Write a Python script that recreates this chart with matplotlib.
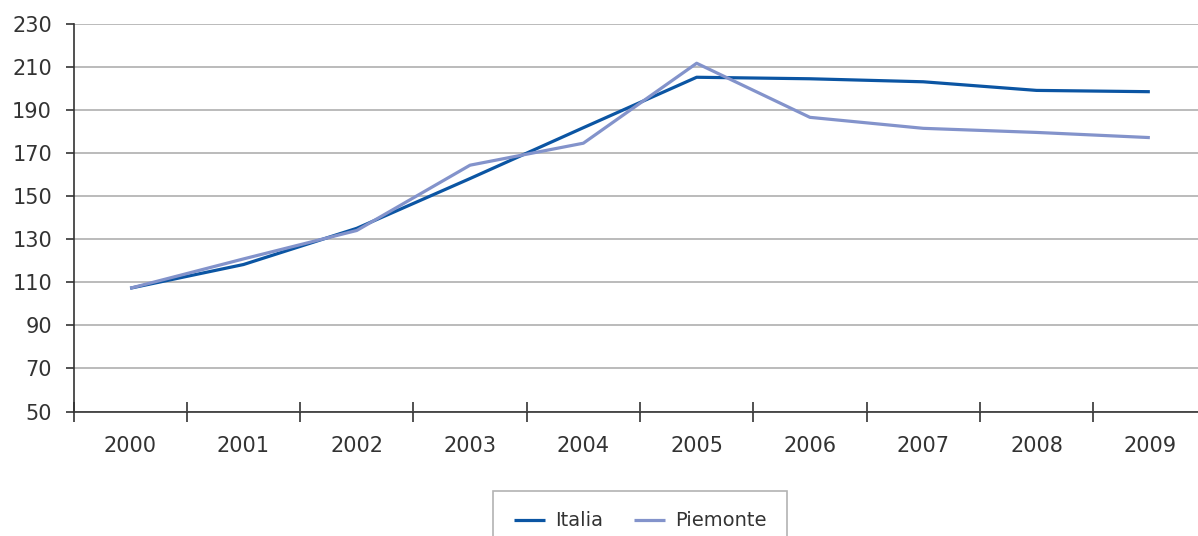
import matplotlib
matplotlib.use("Agg")
import matplotlib.pyplot as plt
import numpy as np

years = ["2000", "2001", "2002", "2003", "2004", "2005", "2006", "2007", "2008", "2009"]
italia = [107.2, 118.2, 135.0, 158.1, 181.7, 205.1, 204.4, 203.0, 199.0, 198.4]
piemonte = [107.2, 120.8, 134.0, 164.3, 174.5, 211.6, 186.5, 181.4, 179.5, 177.1]
yticks = [50, 70, 90, 110, 130, 150, 170, 190, 210, 230]

W, H = 1198, 536
fig = plt.figure(figsize=(W / 100, H / 100), dpi=100)
left_px, right_px = 73.5, 1206.5
top_px, bot_px = 23.6, 411.5
ax = fig.add_axes([left_px / W, 1 - bot_px / H, (right_px - left_px) / W, (bot_px - top_px) / H])

x = np.arange(len(years))
ax.plot(x, italia, color="#0b55a3", lw=2.3, label="Italia", solid_capstyle="butt")
ax.plot(x, piemonte, color="#8393cb", lw=2.3, label="Piemonte", solid_capstyle="butt")

ax.set_xlim(-0.5, len(years) - 0.5)
ax.set_ylim(50, 230)
ax.set_yticks(yticks)
ax.set_yticklabels([str(v) for v in yticks])
ax.yaxis.grid(True, color="#b5b5b5", lw=1.3)
ax.set_axisbelow(True)

ax.set_xticks(np.arange(-0.5, len(years), 1.0))
ax.set_xticklabels([])
ax.set_xticks(x, minor=True)
ax.set_xticklabels(years, minor=True)
ax.tick_params(axis="x", which="major", direction="inout", length=14, width=1.2, color="#333333")
ax.tick_params(axis="x", which="minor", length=0, pad=18, labelsize=15, labelcolor="#333333")
ax.tick_params(axis="y", direction="out", length=6, width=1.2, pad=9.5, labelsize=15,
               labelcolor="#333333", color="#333333")

for s in ["top", "right"]:
    ax.spines[s].set_visible(False)
for s in ["left", "bottom"]:
    ax.spines[s].set_color("#333333")
    ax.spines[s].set_linewidth(1.2)

leg = fig.legend(loc="upper center", bbox_to_anchor=(640 / W, 1 - 491 / H), ncol=2,
                 frameon=True, fancybox=False, fontsize=14, handlelength=1.6,
                 columnspacing=1.6, handletextpad=0.5, borderpad=1.05, borderaxespad=0,
                 labelcolor="#333333")
leg.get_frame().set_edgecolor("#a0a0a0")
leg.get_frame().set_linewidth(1.2)

fig.savefig("out.png", dpi=100)
